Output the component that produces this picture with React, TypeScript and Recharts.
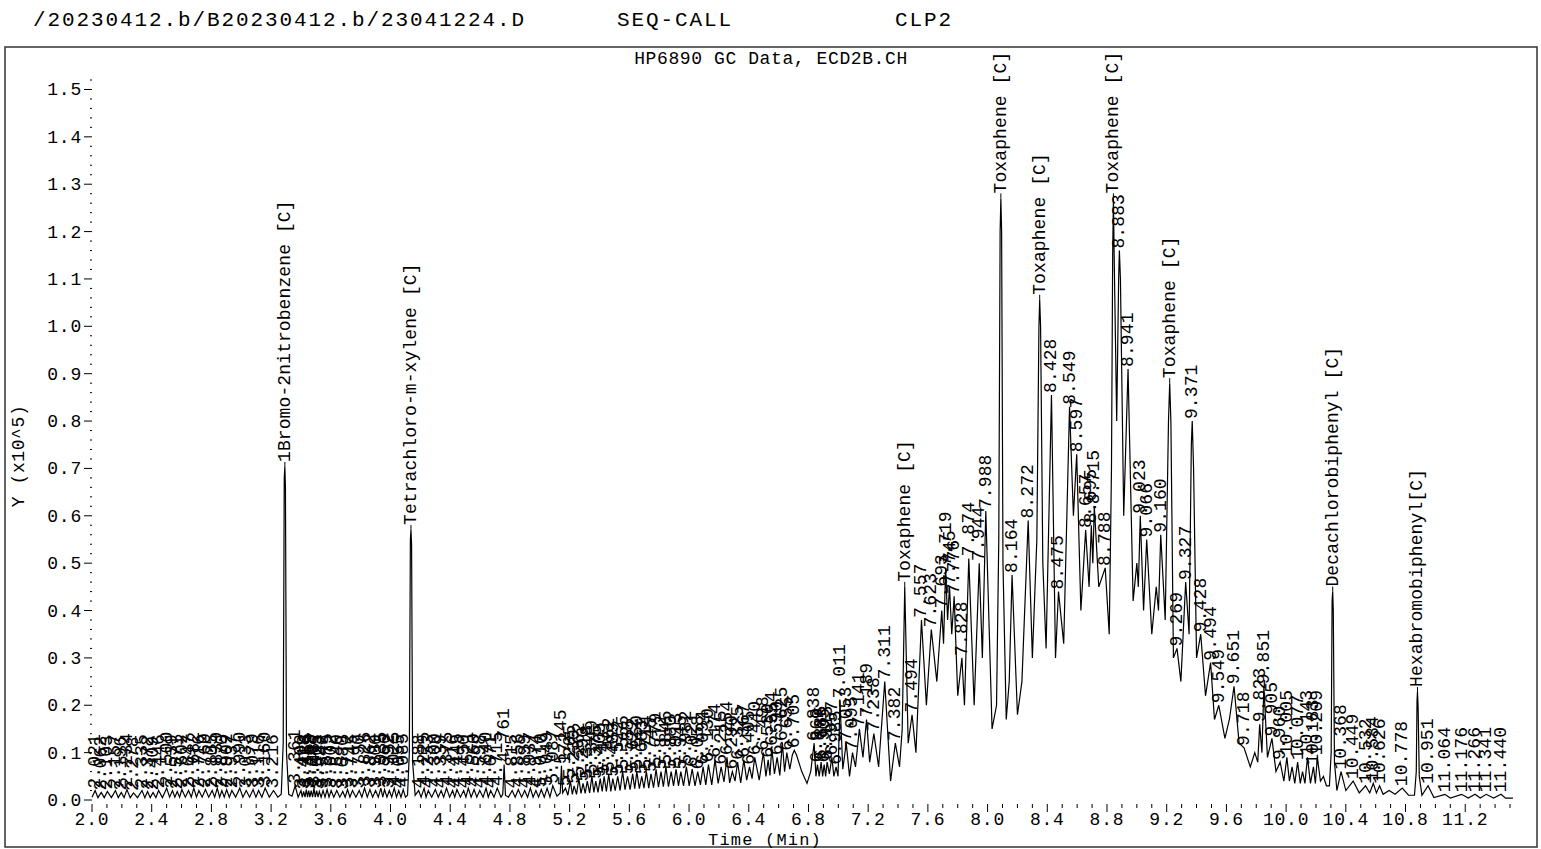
import React from "react";
import { ComposedChart, Line, Scatter, XAxis, YAxis } from "recharts";

const W = 1541;
const H = 849;
const FONT = "'Liberation Mono', 'DejaVu Sans Mono', monospace";

const headerParts = ["/20230412.b/B20230412.b/23041224.D", "SEQ-CALL", "CLP2"];
const chartTitle = "HP6890 GC Data, ECD2B.CH";
const xTitle = "Time (Min)";
const yTitle = "Y (x10^5)";

const xMajorLabels = [
	"2.0", "2.4", "2.8", "3.2", "3.6", "4.0", "4.4", "4.8", "5.2", "5.6", "6.0", "6.4",
	"6.8", "7.2", "7.6", "8.0", "8.4", "8.8", "9.2", "9.6", "10.0", "10.4", "10.8", "11.2",
];
const yMajorLabels = [
	"0.0", "0.1", "0.2", "0.3", "0.4", "0.5", "0.6", "0.7",
	"0.8", "0.9", "1.0", "1.1", "1.2", "1.3", "1.4", "1.5",
];

// detector signal, [time (min), response (x10^5)]
const trace: [number, number][] = [
	[2.0, 0.006], [2.021, 0.02], [2.04, 0.005], [2.062, 0.016], [2.082, 0.005], [2.103, 0.018], [2.13, 0.005],
	[2.157, 0.02], [2.176, 0.005], [2.196, 0.016], [2.215, 0.005], [2.234, 0.022], [2.256, 0.005], [2.278, 0.015],
	[2.305, 0.005], [2.335, 0.02], [2.354, 0.005], [2.372, 0.018], [2.39, 0.005], [2.409, 0.016], [2.428, 0.005],
	[2.446, 0.02], [2.472, 0.005], [2.5, 0.025], [2.52, 0.006], [2.539, 0.02], [2.555, 0.006], [2.571, 0.018],
	[2.587, 0.006], [2.602, 0.022], [2.625, 0.006], [2.647, 0.02], [2.665, 0.006], [2.682, 0.025], [2.7, 0.006],
	[2.716, 0.02], [2.738, 0.006], [2.76, 0.022], [2.782, 0.006], [2.805, 0.02], [2.822, 0.006], [2.839, 0.025],
	[2.855, 0.006], [2.87, 0.02], [2.886, 0.006], [2.902, 0.022], [2.92, 0.006], [2.937, 0.02], [2.962, 0.006],
	[2.99, 0.025], [3.011, 0.006], [3.033, 0.02], [3.056, 0.006], [3.079, 0.022], [3.098, 0.006], [3.116, 0.02],
	[3.138, 0.006], [3.16, 0.025], [3.188, 0.006], [3.216, 0.02], [3.245, 0.006],
	[3.268, 0.012], [3.281, 0.12], [3.288, 0.68], [3.292, 0.703], [3.296, 0.66], [3.303, 0.1], [3.318, 0.012],
	[3.34, 0.008], [3.361, 0.03], [3.381, 0.006],
	[3.4, 0.02], [3.409, 0.006], [3.418, 0.018], [3.427, 0.006], [3.436, 0.022], [3.444, 0.006], [3.452, 0.02],
	[3.46, 0.006], [3.468, 0.02], [3.478, 0.006], [3.487, 0.025], [3.496, 0.006], [3.505, 0.02], [3.514, 0.006],
	[3.523, 0.018], [3.535, 0.006], [3.548, 0.02], [3.561, 0.006], [3.575, 0.022], [3.588, 0.006], [3.602, 0.02],
	[3.62, 0.006], [3.64, 0.02], [3.66, 0.006], [3.68, 0.018], [3.696, 0.006], [3.712, 0.022], [3.728, 0.006],
	[3.745, 0.02], [3.768, 0.006], [3.79, 0.02], [3.808, 0.006], [3.826, 0.025], [3.844, 0.006], [3.862, 0.022],
	[3.88, 0.006], [3.9, 0.02], [3.918, 0.006], [3.935, 0.025], [3.948, 0.006], [3.96, 0.022], [3.976, 0.006],
	[3.992, 0.02], [4.008, 0.006], [4.025, 0.025], [4.04, 0.006], [4.055, 0.02], [4.07, 0.006], [4.085, 0.022],
	[4.1, 0.006],
	[4.114, 0.01], [4.126, 0.1], [4.133, 0.55], [4.137, 0.57], [4.141, 0.54], [4.148, 0.08], [4.165, 0.01],
	[4.188, 0.02], [4.205, 0.006], [4.225, 0.025], [4.238, 0.006], [4.253, 0.02], [4.276, 0.006], [4.3, 0.022],
	[4.32, 0.006], [4.339, 0.02], [4.356, 0.006], [4.375, 0.025], [4.396, 0.006], [4.416, 0.02], [4.43, 0.006],
	[4.445, 0.022], [4.468, 0.006], [4.49, 0.02], [4.505, 0.006], [4.521, 0.025], [4.54, 0.006], [4.56, 0.022],
	[4.578, 0.006], [4.598, 0.02], [4.62, 0.006], [4.64, 0.025], [4.655, 0.006], [4.671, 0.02], [4.693, 0.006],
	[4.715, 0.025], [4.74, 0.006], [4.752, 0.012], [4.761, 0.075], [4.77, 0.01], [4.79, 0.006],
	[4.815, 0.02], [4.835, 0.006], [4.856, 0.022], [4.878, 0.006], [4.899, 0.02], [4.918, 0.006], [4.937, 0.025],
	[4.955, 0.006], [4.974, 0.02], [4.992, 0.006], [5.01, 0.022], [5.03, 0.006], [5.049, 0.025], [5.068, 0.006],
	[5.087, 0.03], [5.115, 0.008], [5.137, 0.015], [5.145, 0.072], [5.153, 0.015], [5.172, 0.025], [5.188, 0.01],
	[5.205, 0.04], [5.218, 0.012], [5.23, 0.03], [5.246, 0.012], [5.262, 0.045], [5.276, 0.014], [5.29, 0.035],
	[5.304, 0.014], [5.318, 0.04], [5.334, 0.015], [5.349, 0.05], [5.362, 0.016], [5.375, 0.04], [5.39, 0.016],
	[5.405, 0.045], [5.418, 0.018], [5.431, 0.05], [5.446, 0.018], [5.462, 0.055], [5.476, 0.018], [5.489, 0.045],
	[5.505, 0.02], [5.522, 0.05], [5.538, 0.02], [5.555, 0.06], [5.571, 0.022], [5.588, 0.05], [5.605, 0.022],
	[5.622, 0.055], [5.636, 0.024], [5.65, 0.06], [5.667, 0.024], [5.683, 0.05], [5.698, 0.025], [5.714, 0.06],
	[5.73, 0.025], [5.745, 0.055], [5.762, 0.026], [5.779, 0.065], [5.795, 0.027], [5.812, 0.06], [5.828, 0.028],
	[5.845, 0.07], [5.862, 0.028], [5.88, 0.06], [5.896, 0.03], [5.913, 0.065], [5.929, 0.03], [5.945, 0.06],
	[5.963, 0.03], [5.982, 0.07], [6.001, 0.03], [6.021, 0.065], [6.04, 0.03], [6.058, 0.06], [6.076, 0.032],
	[6.094, 0.07], [6.112, 0.032], [6.13, 0.075], [6.152, 0.032], [6.174, 0.085],
	[6.195, 0.035], [6.215, 0.07], [6.234, 0.038], [6.254, 0.09], [6.272, 0.036], [6.29, 0.06], [6.308, 0.04],
	[6.325, 0.08], [6.346, 0.036], [6.367, 0.085], [6.386, 0.042], [6.405, 0.07], [6.422, 0.045], [6.44, 0.09],
	[6.47, 0.042], [6.498, 0.1], [6.515, 0.05], [6.53, 0.085], [6.542, 0.052], [6.554, 0.11], [6.572, 0.055],
	[6.59, 0.09], [6.608, 0.052], [6.625, 0.12], [6.64, 0.06], [6.655, 0.1], [6.675, 0.065], [6.692, 0.095],
	[6.705, 0.105], [6.72, 0.095], [6.755, 0.06], [6.79, 0.035], [6.815, 0.06], [6.838, 0.12], [6.85, 0.05],
	[6.86, 0.075], [6.872, 0.05], [6.885, 0.08], [6.895, 0.05], [6.905, 0.075], [6.915, 0.05], [6.925, 0.08],
	[6.94, 0.055], [6.957, 0.09], [6.97, 0.05], [6.985, 0.07], [6.998, 0.05], [7.011, 0.21], [7.03, 0.065],
	[7.053, 0.12], [7.075, 0.05], [7.095, 0.1], [7.115, 0.07], [7.141, 0.15], [7.165, 0.09], [7.189, 0.17],
	[7.21, 0.08], [7.238, 0.14], [7.27, 0.07], [7.311, 0.25], [7.35, 0.04], [7.382, 0.12], [7.41, 0.07],
	[7.428, 0.15], [7.445, 0.45], [7.468, 0.12], [7.494, 0.18], [7.52, 0.1], [7.557, 0.38], [7.59, 0.2],
	[7.623, 0.36], [7.66, 0.25], [7.693, 0.4], [7.705, 0.33], [7.719, 0.49], [7.732, 0.38], [7.745, 0.45],
	[7.76, 0.35], [7.776, 0.43], [7.8, 0.22], [7.828, 0.3], [7.845, 0.2], [7.874, 0.51], [7.91, 0.2],
	[7.944, 0.5], [7.965, 0.3], [7.988, 0.61], [8.03, 0.15], [8.06, 0.2], [8.075, 0.55], [8.084, 1.2],
	[8.089, 1.27], [8.094, 1.2], [8.103, 0.5], [8.125, 0.17], [8.145, 0.25], [8.164, 0.475], [8.2, 0.18],
	[8.23, 0.25], [8.272, 0.59], [8.3, 0.3], [8.33, 0.55], [8.344, 1.0], [8.349, 1.056], [8.355, 1.0],
	[8.37, 0.5], [8.392, 0.32], [8.428, 0.855], [8.455, 0.3], [8.475, 0.44], [8.51, 0.33], [8.549, 0.83],
	[8.575, 0.6], [8.597, 0.73], [8.625, 0.4], [8.657, 0.57], [8.68, 0.45], [8.695, 0.58], [8.705, 0.5],
	[8.715, 0.62], [8.745, 0.45], [8.788, 0.49], [8.815, 0.35], [8.83, 0.7], [8.838, 1.15], [8.843, 1.27],
	[8.848, 1.15], [8.865, 0.8], [8.878, 1.1], [8.883, 1.16], [8.89, 1.1], [8.912, 0.6], [8.941, 0.91],
	[8.975, 0.42], [9.0, 0.5], [9.01, 0.45], [9.023, 0.6], [9.045, 0.4], [9.066, 0.55], [9.1, 0.35],
	[9.13, 0.45], [9.145, 0.4], [9.16, 0.56], [9.19, 0.38], [9.212, 0.8], [9.22, 0.88], [9.228, 0.8],
	[9.245, 0.3], [9.269, 0.32], [9.295, 0.25], [9.327, 0.46], [9.35, 0.35], [9.365, 0.75], [9.371, 0.8],
	[9.38, 0.7], [9.4, 0.3], [9.428, 0.35], [9.46, 0.22], [9.494, 0.29], [9.52, 0.17], [9.549, 0.2],
	[9.59, 0.13], [9.62, 0.17], [9.651, 0.24], [9.685, 0.12], [9.718, 0.11], [9.76, 0.07], [9.79, 0.1],
	[9.81, 0.08], [9.823, 0.16], [9.838, 0.1], [9.851, 0.24], [9.875, 0.09], [9.905, 0.13], [9.932, 0.06],
	[9.96, 0.08], [9.985, 0.04], [10.005, 0.09], [10.022, 0.04], [10.04, 0.07], [10.058, 0.035], [10.077, 0.08],
	[10.095, 0.035], [10.11, 0.06], [10.126, 0.035], [10.143, 0.09], [10.163, 0.035], [10.183, 0.07], [10.196, 0.035],
	[10.209, 0.09], [10.23, 0.04], [10.25, 0.05], [10.27, 0.03],
	[10.29, 0.03], [10.302, 0.1], [10.308, 0.42], [10.312, 0.44], [10.316, 0.4], [10.324, 0.08], [10.34, 0.02],
	[10.368, 0.06], [10.4, 0.02], [10.449, 0.04], [10.49, 0.015], [10.532, 0.03], [10.56, 0.015], [10.584, 0.035],
	[10.605, 0.015], [10.626, 0.03], [10.65, 0.012], [10.69, 0.02], [10.73, 0.012], [10.778, 0.025], [10.82, 0.01],
	[10.86, 0.01], [10.872, 0.06], [10.877, 0.21], [10.88, 0.228], [10.884, 0.2], [10.892, 0.05], [10.91, 0.01],
	[10.951, 0.03], [10.99, 0.005], [11.064, 0.012], [11.1, 0.004], [11.176, 0.012], [11.22, 0.004], [11.266, 0.012],
	[11.3, 0.004], [11.341, 0.012], [11.39, 0.004], [11.44, 0.012], [11.47, 0.004], [11.52, 0.004],
];

// identified compounds
const compoundNames = [
	"1Bromo-2nitrobenzene [C]",
	"Tetrachloro-m-xylene [C]",
	"Toxaphene [C]",
	"Toxaphene [C]",
	"Toxaphene [C]",
	"Toxaphene [C]",
	"Toxaphene [C]",
	"Decachlorobiphenyl [C]",
	"Hexabromobiphenyl[C]",
];
const compoundTimes = [3.292, 4.137, 7.445, 8.089, 8.349, 8.843, 9.22, 10.312, 10.88];

// retention times printed above the other peaks
const peakTimes = [
	2.021, 2.062, 2.103, 2.157, 2.196, 2.234, 2.278, 2.335, 2.372, 2.409, 2.446, 2.5, 2.539, 2.571, 2.602,
	2.647, 2.682, 2.716, 2.76, 2.805, 2.839, 2.87, 2.902, 2.937, 2.99, 3.033, 3.079, 3.116, 3.16, 3.216, 3.361,
	3.4, 3.418, 3.436, 3.452, 3.468, 3.487, 3.505, 3.523, 3.548, 3.575, 3.602, 3.64, 3.68, 3.712, 3.745, 3.79,
	3.826, 3.862, 3.9, 3.935, 3.96, 3.992, 4.025, 4.055, 4.085,
	4.188, 4.225, 4.253, 4.3, 4.339, 4.375, 4.416, 4.445, 4.49, 4.521, 4.56, 4.598, 4.64, 4.671, 4.715, 4.761,
	4.815, 4.856, 4.899, 4.937, 4.974, 5.01, 5.049, 5.087, 5.145, 5.172,
	5.205, 5.23, 5.262, 5.29, 5.318, 5.349, 5.375, 5.405, 5.431, 5.462, 5.489, 5.522, 5.555, 5.588, 5.622,
	5.65, 5.683, 5.714, 5.745, 5.779, 5.812, 5.845, 5.88, 5.913, 5.945, 5.982, 6.021, 6.058, 6.094, 6.13, 6.174,
	6.215, 6.254, 6.29, 6.325, 6.367, 6.405, 6.44, 6.498, 6.53, 6.554, 6.59, 6.625, 6.655, 6.705, 6.838, 6.86,
	6.885, 6.905, 6.925, 6.957, 6.985, 7.011, 7.053, 7.095, 7.141, 7.189, 7.238, 7.311, 7.382,
	7.494, 7.557, 7.623, 7.693, 7.719, 7.745, 7.776, 7.828, 7.874, 7.944, 7.988, 8.164, 8.272, 8.428, 8.475,
	8.549, 8.597, 8.657, 8.695, 8.715, 8.788, 8.883, 8.941, 9.023, 9.066, 9.16, 9.269, 9.327, 9.371, 9.428,
	9.494, 9.549, 9.651, 9.718, 9.823, 9.851, 9.905, 9.96, 10.005, 10.077, 10.143, 10.183, 10.209, 10.368,
	10.449, 10.532, 10.584, 10.626, 10.778, 10.951, 11.064, 11.176, 11.266, 11.341, 11.44,
];

const signalAt = (t: number) => {
	let best = trace[0];
	for (const p of trace) if (Math.abs(p[0] - t) < Math.abs(best[0] - t)) best = p;
	return best[1];
};

const lineData = trace.map(([t, v]) => ({ t, v }));
const labelData = [
	...peakTimes.map((t) => ({ t, v: signalAt(t), text: t.toFixed(3), named: false })),
	...compoundTimes.map((t, i) => ({ t, v: signalAt(t), text: compoundNames[i], named: true })),
];

const xTicks = Array.from({ length: 96 }, (_, i) => Math.round((2 + i * 0.1) * 10) / 10);
const yTicks = Array.from({ length: 77 }, (_, i) => Math.round(i * 2) / 100);

const textStyle = { fontFamily: FONT, fontSize: 18, fill: "#000" };

const XTick = (props: any) => {
	const { x, y, payload } = props;
	const lbl = xMajorLabels.find((l) => Math.abs(parseFloat(l) - payload.value) < 1e-6);
	if (!lbl) return <line x1={x} x2={x} y1={y + 4} y2={y + 8} stroke="#000" />;
	return (
		<g>
			<line x1={x} x2={x} y1={y + 4} y2={y + 12} stroke="#000" />
			<text x={x} y={y + 25} textAnchor="middle" letterSpacing={0.8} {...textStyle}>
				{lbl}
			</text>
		</g>
	);
};

const YTick = (props: any) => {
	const { x, y, payload } = props;
	const lbl = yMajorLabels.find((l) => Math.abs(parseFloat(l) - payload.value) < 1e-6);
	if (!lbl) return <line x1={x - 2} x2={x} y1={y} y2={y} stroke="#000" />;
	return (
		<g>
			<line x1={x - 8} x2={x} y1={y} y2={y} stroke="#000" />
			<text x={x - 10} y={y + 6} textAnchor="end" letterSpacing={0.8} {...textStyle}>
				{lbl}
			</text>
		</g>
	);
};

const PeakLabel = (props: any) => {
	const { cx, cy, payload } = props;
	if (cx == null || cy == null) return null;
	const lead = payload.named ? 5 : 2;
	const tx = cx + 5;
	const ty = cy - lead;
	return (
		<g>
			{payload.named && <line x1={cx} x2={cx} y1={cy} y2={ty} stroke="#000" />}
			<text
				x={tx}
				y={ty}
				transform={`rotate(-90 ${tx} ${ty})`}
				letterSpacing={0.1}
				{...textStyle}
			>
				{payload.text}
			</text>
		</g>
	);
};

export default function App() {
	return (
		<div style={{ position: "absolute", left: 0, top: 0, width: W, height: H, background: "#fff" }}>
			<ComposedChart
				width={W}
				height={H}
				margin={{ top: 80, right: 28, bottom: 0, left: 0 }}
			>
				<XAxis
					type="number"
					dataKey="t"
					domain={[2, 11.52]}
					ticks={xTicks}
					interval={0}
					tick={<XTick />}
					tickLine={false}
					tickSize={0}
					tickMargin={0}
					axisLine={false}
					height={49}
					allowDuplicatedCategory={false}
				/>
				<YAxis
					type="number"
					domain={[0, 1.52]}
					ticks={yTicks}
					interval={0}
					tick={<YTick />}
					tickLine={false}
					tickSize={0}
					tickMargin={0}
					axisLine={false}
					width={92}
				/>
				<Line
					data={lineData}
					dataKey="v"
					type="linear"
					stroke="#000"
					strokeWidth={1.2}
					dot={false}
					activeDot={false}
					isAnimationActive={false}
				/>
				<Scatter
					data={labelData}
					dataKey="v"
					shape={<PeakLabel />}
					isAnimationActive={false}
				/>
			</ComposedChart>
			<svg
				width={W}
				height={H}
				style={{ position: "absolute", left: 0, top: 0, pointerEvents: "none" }}
			>
				<rect x={5} y={47} width={1532} height={800} fill="none" stroke="#333" strokeWidth={1.5} />
				<g style={{ fontFamily: FONT, fontSize: 21 }} fill="#000" letterSpacing={1.9}>
					<text x={33} y={26}>{headerParts[0]}</text>
					<text x={617} y={26}>{headerParts[1]}</text>
					<text x={895} y={26}>{headerParts[2]}</text>
				</g>
				<text x={771} y={64} textAnchor="middle" letterSpacing={0.6} {...textStyle}>
					{chartTitle}
				</text>
				<text
					x={765}
					y={845}
					textAnchor="middle"
					letterSpacing={1.2}
					style={{ fontFamily: FONT, fontSize: 17 }}
					fill="#000"
				>
					{xTitle}
				</text>
				<text
					x={24}
					y={456}
					textAnchor="middle"
					transform="rotate(-90 24 456)"
					letterSpacing={0.6}
					{...textStyle}
				>
					{yTitle}
				</text>
			</svg>
		</div>
	);
}
